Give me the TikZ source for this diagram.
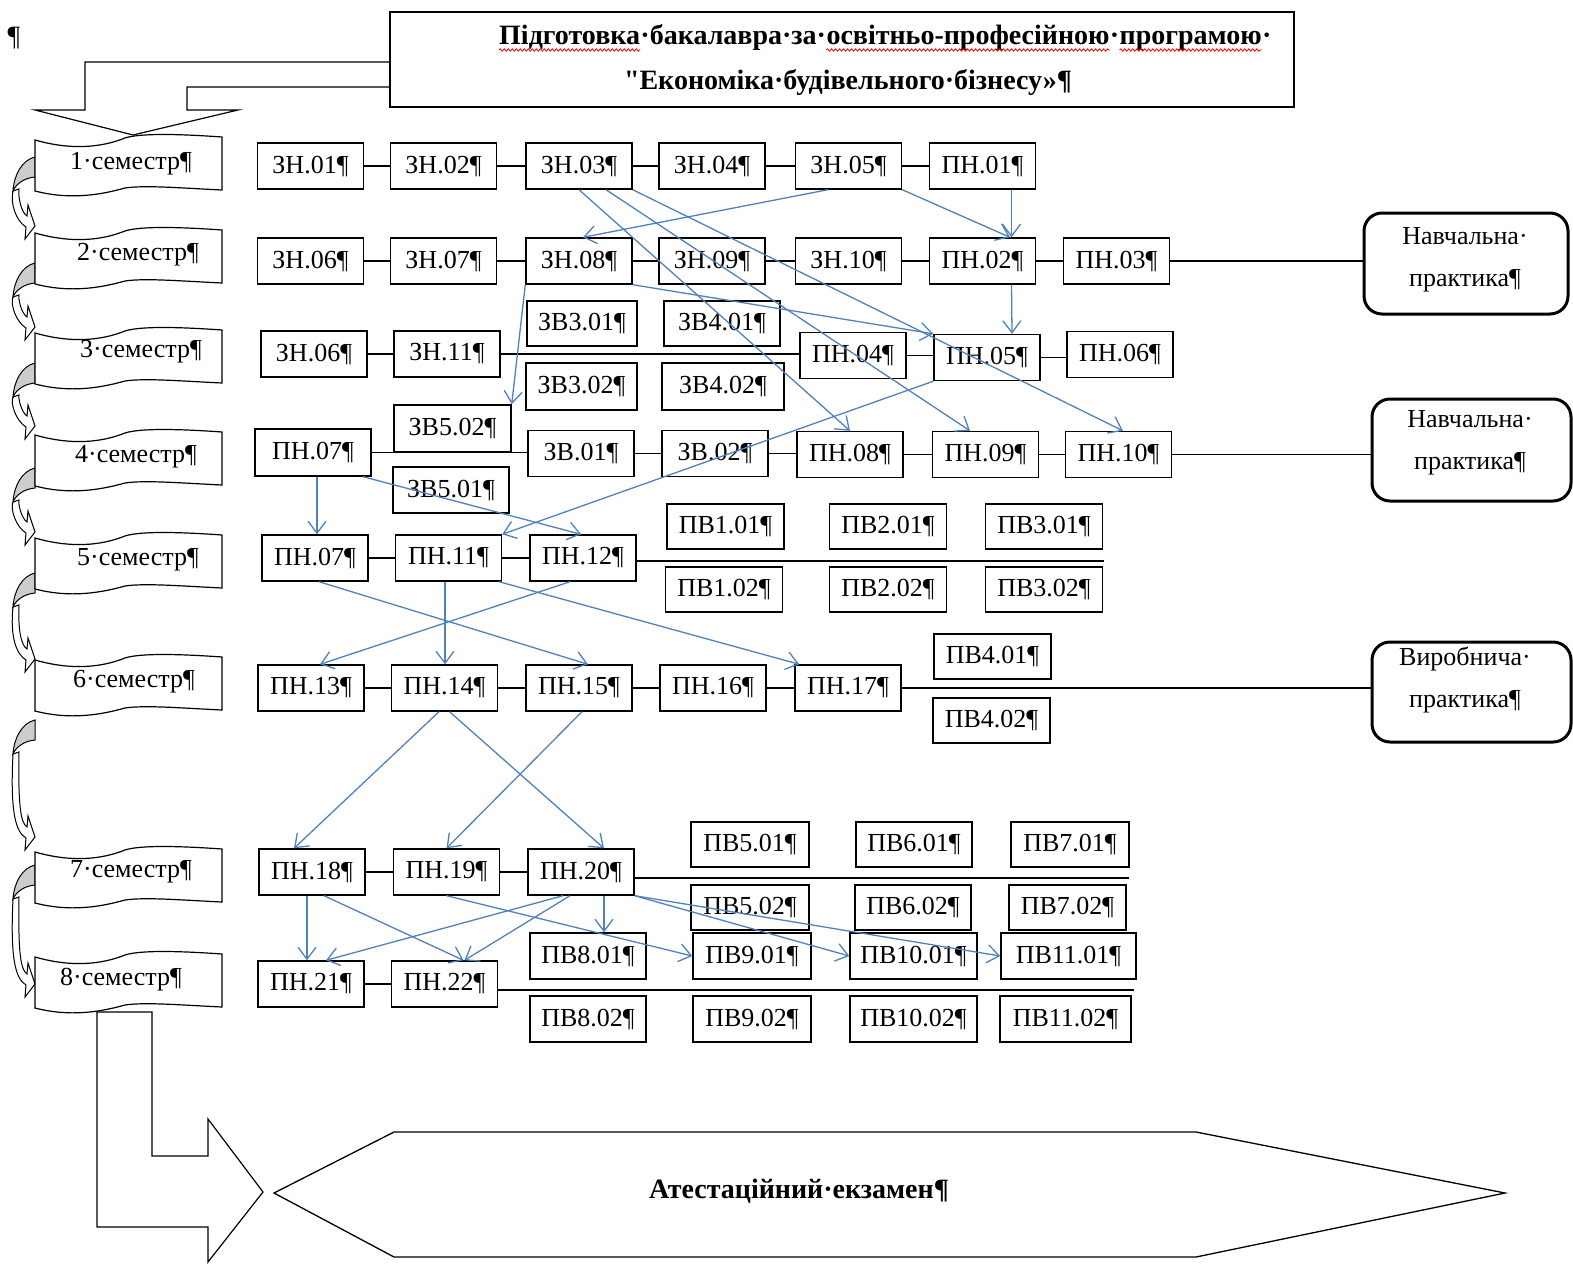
\documentclass[tikz,border=0pt]{standalone}
\usepackage{fontspec}
\setmainfont{Liberation Serif}
\usetikzlibrary{arrows.meta,decorations.pathmorphing}
\definecolor{wblue}{RGB}{79,129,189}
\newcommand\fsz{\fontsize{26}{30}\selectfont}
\tikzset{
 bx/.style={draw, line width=1.4pt, fill=white, minimum width=106pt, minimum height=46pt, inner sep=0pt, font=\fsz},
 conn/.style={line width=1.3pt},
 barr/.style={wblue, line width=1.3pt, -{Straight Barb[length=12pt,width=18pt]}},
 pbox/.style={draw, line width=3pt, rounded corners=18pt, fill=white},
 ptext/.style={font=\fontsize{26}{42}\selectfont, align=center},
 bann/.style={draw, line width=1.2pt, fill=white},
 lbl/.style={font=\fsz},
 tt/.style={font=\bfseries\fontsize{28}{32}\selectfont, inner sep=0pt, anchor=base west},
 wavy/.style={red, line width=0.8pt, decorate, decoration={snake, amplitude=1.2pt, segment length=4pt}},
}
\newcommand\semarr[2]{%
 \draw[line width=1pt, fill=white] (13,#1+34) .. controls (10,#2-22) and (16,#2-4) .. (26,#2+2) -- (25,#2+14) -- (35,#2+1) -- (28,#2-20) -- (27,#2-9) .. controls (21,#2-13) and (18,#2-28) .. (19,#1+32) -- cycle;
 \draw[line width=1pt, fill=gray!40] (35,#1) .. controls (22,#1+3) and (14,#1+18) .. (13,#1+34) .. controls (16,#1+27) and (24,#1+21) .. (35,#1+20) -- cycle;}
\newcommand\bannerpath[1]{%
 \draw[bann] (35,#1) .. controls (70,#1+10) and (100,#1+8) .. (125,#1-2) .. controls (140,#1-7) and (180,#1-6) .. (222,#1-3) -- (222,#1+50) .. controls (180,#1+48) and (145,#1+45) .. (125,#1+48) .. controls (100,#1+55) and (70,#1+60) .. (35,#1+51) -- cycle;}
\newcommand\hl[2]{\draw[conn] (#1.east) -- (#1.east -| #2.west);}
\newcommand\wv[1]{\draw[wavy] ([yshift=-5pt]#1.base west) -- ([yshift=-5pt]#1.base east);}
\begin{document}
\begin{tikzpicture}[x=1pt,y=-1pt]
\useasboundingbox (0,0) rectangle (1573,1263);
% top-left mark
\node[font=\fontsize{28}{30}\selectfont] (pil) at (14,38) {¶};
% top bent arrow
\draw[line width=1.2pt, fill=white] (390,62) -- (85,62) -- (85,110) -- (35,110) -- (133,135) -- (238,110) -- (187,110) -- (187,87) -- (390,87);
% title
\node[draw, line width=1.3pt, fill=white, minimum width=904pt, minimum height=95pt] (title) at (842,59.5) {};
\node[tt] (w1) at (499,45) {Підготовка};
\node[tt] (w2) at (w1.base east) {·бакалавра·за·};
\node[tt] (w3) at (w2.base east) {освітньо-професійною};
\node[tt] (w4) at (w3.base east) {·};
\node[tt] (w5) at (w4.base east) {програмою};
\node[tt] (w6) at (w5.base east) {·};
\wv{w1}\wv{w3}\wv{w5}
\node[font=\bfseries\fontsize{28}{32}\selectfont] (t2) at (848,82) {{\addfontfeatures{Ligatures=TeXOff}"}Економіка·будівельного·бізнесу»¶};
% left curved arrows
\semarr{157}{225}
\semarr{263}{326}
\semarr{363}{425}
\semarr{468}{531}
\semarr{573}{658}
\semarr{720}{836}
\semarr{865}{983}
% bottom bent arrow
\draw[line width=1.2pt, fill=white] (97,1012) -- (97,1227) -- (208,1227) -- (208,1262) -- (263,1192) -- (208,1119) -- (208,1156) -- (152,1156) -- (152,1012) -- cycle;
% banners
\bannerpath{140}\node[lbl] (s1) at (131,164) {1·семестр¶};
\bannerpath{233}\node[lbl] (s2) at (138,255) {2·семестр¶};
\bannerpath{333}\node[lbl] (s3) at (141,352) {3·семестр¶};
\bannerpath{435}\node[lbl] (s4) at (136,457) {4·семестр¶};
\bannerpath{538}\node[lbl] (s5) at (138,560) {5·семестр¶};
\bannerpath{660}\node[lbl] (s6) at (134,682) {6·семестр¶};
\bannerpath{852}\node[lbl] (s7) at (131,872) {7·семестр¶};
\bannerpath{957}\node[lbl] (s8) at (121,980) {8·семестр¶};
% hexagon
\draw[line width=1.3pt, fill=white] (274,1193) -- (394,1132) -- (1196,1132) -- (1505,1193) -- (1196,1257) -- (394,1257) -- cycle;
\node[font=\bfseries\fontsize{28}{32}\selectfont] (exam) at (799,1191) {Атестаційний·екзамен¶};
% row 1
\node[bx] (zn01) at (310.5,166) {ЗН.01¶};
\node[bx] (zn02) at (443.5,166) {ЗН.02¶};
\node[bx] (zn03) at (579,166) {ЗН.03¶};
\node[bx] (zn04) at (712,166) {ЗН.04¶};
\node[bx] (zn05) at (848.5,166) {ЗН.05¶};
\node[bx] (pn01) at (982.5,166) {ПН.01¶};
% row 2
\node[bx] (zn06a) at (310.5,261) {ЗН.06¶};
\node[bx] (zn07) at (443.5,261) {ЗН.07¶};
\node[bx] (zn08) at (579,261) {ЗН.08¶};
\node[bx] (zn09) at (712,261) {ЗН.09¶};
\node[bx] (zn10) at (848.5,261) {ЗН.10¶};
\node[bx] (pn02) at (982.5,261) {ПН.02¶};
\node[bx] (pn03) at (1116.5,261) {ПН.03¶};
\node[bx, minimum width=110pt, minimum height=45pt] (zv301) at (582,323.5) {ЗВ3.01¶};
\node[bx, minimum width=116pt, minimum height=45pt] (zv401) at (722,323.5) {ЗВ4.01¶};
% row 3
\node[bx] (zn06b) at (314,354) {ЗН.06¶};
\node[bx] (zn11) at (447,354) {ЗН.11¶};
\node[bx] (pn04) at (853,355.5) {ПН.04¶};
\node[bx] (pn05) at (987,357.5) {ПН.05¶};
\node[bx] (pn06) at (1120,354.5) {ПН.06¶};
\node[bx, minimum width=111pt, minimum height=47pt] (zv302) at (581.5,386.5) {ЗВ3.02¶};
\node[bx, minimum width=122pt, minimum height=47pt] (zv402) at (723,386.5) {ЗВ4.02¶};
\node[bx, minimum width=117pt, minimum height=47pt] (zv502) at (452.5,428.5) {ЗВ5.02¶};
% row 4
\node[bx, minimum width=116pt, minimum height=47pt] (pn07a) at (313,452.5) {ПН.07¶};
\node[bx] (zv01) at (581,453.5) {ЗВ.01¶};
\node[bx] (zv02) at (715,453.5) {ЗВ.02¶};
\node[bx] (pn08) at (850,454.5) {ПН.08¶};
\node[bx] (pn09) at (985.5,454.5) {ПН.09¶};
\node[bx] (pn10) at (1118.5,454.5) {ПН.10¶};
\node[bx, minimum width=116pt] (zv501) at (451,490) {ЗВ5.01¶};
% row 5
\node[bx] (pn07b) at (315,558) {ПН.07¶};
\node[bx] (pn11) at (448.5,558) {ПН.11¶};
\node[bx] (pn12) at (583,558) {ПН.12¶};
\node[bx, minimum width=117pt, minimum height=45pt] (pv101) at (725.5,526.5) {ПВ1.01¶};
\node[bx, minimum width=117pt, minimum height=45pt] (pv201) at (888,526.5) {ПВ2.01¶};
\node[bx, minimum width=117pt, minimum height=45pt] (pv301) at (1044,526.5) {ПВ3.01¶};
\node[bx, minimum width=117pt, minimum height=45pt] (pv102) at (724,589.5) {ПВ1.02¶};
\node[bx, minimum width=117pt, minimum height=45pt] (pv202) at (888,589.5) {ПВ2.02¶};
\node[bx, minimum width=117pt, minimum height=45pt] (pv302) at (1044,589.5) {ПВ3.02¶};
% row 6
\node[bx] (pn13) at (311,688) {ПН.13¶};
\node[bx] (pn14) at (444.5,688) {ПН.14¶};
\node[bx] (pn15) at (579,688) {ПН.15¶};
\node[bx] (pn16) at (713,688) {ПН.16¶};
\node[bx] (pn17) at (848,688) {ПН.17¶};
\node[bx, minimum width=117pt, minimum height=45pt] (pv401) at (992.5,656.5) {ПВ4.01¶};
\node[bx, minimum width=117pt, minimum height=45pt] (pv402) at (991.5,720.5) {ПВ4.02¶};
% row 7
\node[bx] (pn18) at (312,872) {ПН.18¶};
\node[bx] (pn19) at (446.5,872) {ПН.19¶};
\node[bx] (pn20) at (581,872) {ПН.20¶};
\node[bx, minimum width=118pt, minimum height=45pt] (pv501) at (750,844.5) {ПВ5.01¶};
\node[bx, minimum width=116pt, minimum height=45pt] (pv601) at (914,844.5) {ПВ6.01¶};
\node[bx, minimum width=118pt, minimum height=45pt] (pv701) at (1070,844.5) {ПВ7.01¶};
\node[bx, minimum width=118pt, minimum height=45pt] (pv502) at (750,907.5) {ПВ5.02¶};
\node[bx, minimum width=116pt, minimum height=45pt] (pv602) at (913,907.5) {ПВ6.02¶};
\node[bx, minimum width=117pt, minimum height=45pt] (pv702) at (1067.5,907.5) {ПВ7.02¶};
\node[bx, minimum width=116pt] (pv801) at (588,956) {ПВ8.01¶};
\node[bx, minimum width=118pt] (pv901) at (752,956) {ПВ9.01¶};
\node[bx, minimum width=127pt] (pv1001) at (913.5,956) {ПВ10.01¶};
\node[bx, minimum width=135pt] (pv1101) at (1068.5,956) {ПВ11.01¶};
% row 8
\node[bx] (pn21) at (311,984) {ПН.21¶};
\node[bx] (pn22) at (444.5,984) {ПН.22¶};
\node[bx, minimum width=116pt] (pv802) at (588,1019) {ПВ8.02¶};
\node[bx, minimum width=118pt] (pv902) at (752,1019) {ПВ9.02¶};
\node[bx, minimum width=127pt] (pv1002) at (913.5,1019) {ПВ10.02¶};
\node[bx, minimum width=131pt] (pv1102) at (1065.5,1019) {ПВ11.02¶};
% practice boxes
\node[pbox, minimum width=204pt, minimum height=101pt] (np1) at (1466,263.5) {};
\node[ptext] (np1t) at (1465,260) {Навчальна·\\практика¶};
\node[pbox, minimum width=199pt, minimum height=102pt] (np2) at (1471.5,450) {};
\node[ptext] (np2t) at (1470,443) {Навчальна·\\практика¶};
\node[pbox, minimum width=199pt, minimum height=100pt] (vp) at (1471.5,692) {};
\node[ptext] (vpt) at (1465,680) {Виробнича·\\практика¶};
% free ends
\coordinate (e5) at (1104,561);
\coordinate (e7) at (1129,878);
\coordinate (e8) at (1134,990);
% black connectors
\hl{zn01}{zn02}\hl{zn02}{zn03}\hl{zn03}{zn04}\hl{zn04}{zn05}\hl{zn05}{pn01}
\hl{zn06a}{zn07}\hl{zn07}{zn08}\hl{zn08}{zn09}\hl{zn09}{zn10}\hl{zn10}{pn02}\hl{pn02}{pn03}\hl{pn03}{np1}
\hl{zn06b}{zn11}\hl{zn11}{pn04}\hl{pn04}{pn05}\hl{pn05}{pn06}
\hl{pn07a}{zv01}\hl{zv01}{zv02}\hl{zv02}{pn08}\hl{pn08}{pn09}\hl{pn09}{pn10}\hl{pn10}{np2}
\hl{pn07b}{pn11}\hl{pn11}{pn12}
\draw[conn] ([yshift=-3pt]pn12.east) -- (e5);
\hl{pn13}{pn14}\hl{pn14}{pn15}\hl{pn15}{pn16}\hl{pn16}{pn17}\hl{pn17}{vp}
\hl{pn18}{pn19}\hl{pn19}{pn20}
\draw[conn] ([yshift=-6pt]pn20.east) -- (e7);
\hl{pn21}{pn22}
\draw[conn] ([yshift=-6pt]pn22.east) -- (e8);
% blue arrows
\draw[barr] ([xshift=-20.5pt]zn05.south) -- ([xshift=4pt]zn08.north);
\draw[barr] (zn05.south east) -- ([xshift=27.5pt]pn02.north);
\draw[barr] ([xshift=29pt]pn01.south) -- ([xshift=29pt]pn02.north);
\draw[barr] ([xshift=29pt]pn02.south) -- ([xshift=25pt]pn05.north);
\draw[barr] (zn03.south) -- (pn08.north);
\draw[barr] ([xshift=27pt]zn03.south) -- ([xshift=-15.5pt]pn09.north);
\draw[barr] (zn03.south east) -- ([xshift=4.5pt]pn10.north);
\draw[barr] (zn08.south east) -- (pn05.north west);
\draw[barr] (zn08.south west) -- (zv502.north east);
\draw[barr] (pn05.south west) -- (pn11.north east);
\draw[barr] ([xshift=4pt]pn07a.south) -- ([xshift=2pt]pn07b.north);
\draw[barr] ([xshift=50pt]pn07a.south) -- ([xshift=-2pt]pn12.north);
\draw[barr] ([xshift=4pt]pn07b.south) -- ([xshift=9pt]pn15.north);
\draw[barr] ([xshift=-3.5pt]pn11.south) -- ([xshift=0.5pt]pn14.north);
\draw[barr] ([xshift=50.5pt]pn11.south) -- ([xshift=5pt]pn17.north west);
\draw[barr] ([xshift=-13pt]pn12.south) -- ([xshift=9pt]pn13.north);
\draw[barr] ([xshift=-5.5pt]pn14.south) -- ([xshift=-18pt]pn18.north);
\draw[barr] ([xshift=5pt]pn14.south) -- ([xshift=23pt]pn20.north);
\draw[barr] ([xshift=3pt]pn15.south) -- (pn19.north);
\draw[barr] ([xshift=-5pt]pn18.south) -- ([xshift=-4pt]pn21.north);
\draw[barr] ([xshift=12pt]pn18.south) -- ([xshift=19pt]pn22.north);
\draw[barr] (pn19.south) -- (pv901.west);
\draw[barr] ([xshift=-18pt]pn20.south) -- ([xshift=15pt]pn21.north);
\draw[barr] ([xshift=-11pt]pn20.south) -- ([xshift=20pt]pn22.north);
\draw[barr] ([xshift=23pt]pn20.south) -- ([xshift=16pt]pv801.north);
\draw[barr] (pn20.south east) -- (pv1001.west);
\draw[barr] (pn20.south east) -- (pv1101.west);
\end{tikzpicture}
\end{document}
